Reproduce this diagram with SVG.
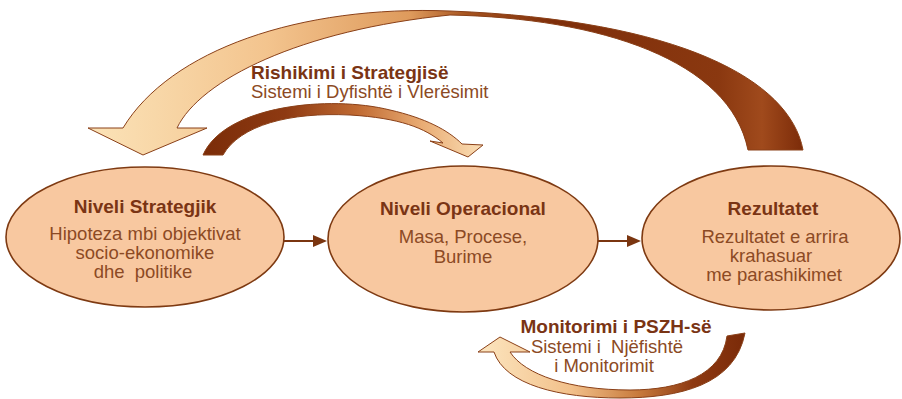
<svg xmlns="http://www.w3.org/2000/svg" width="902" height="399" viewBox="0 0 902 399">
  <defs>
    <style>
      .node { fill: #F8C8A0; stroke: #7E3A12; stroke-width: 1.6; }
      .title { font-family: "Liberation Sans", Arial, sans-serif; font-weight: bold; font-size: 19px; fill: #7A3414; text-anchor: middle; }
      .body { font-family: "Liberation Sans", Arial, sans-serif; font-size: 18.5px; fill: #8C4A24; text-anchor: middle; white-space: pre; }
      .cap { font-family: "Liberation Sans", Arial, sans-serif; font-weight: bold; font-size: 19px; fill: #7A3414; }
      .capsub { font-family: "Liberation Sans", Arial, sans-serif; font-size: 18.5px; fill: #8C4A24; white-space: pre; }
      .band { stroke: #8A4018; stroke-width: 1; stroke-linejoin: round; }
      .link { stroke: #7A3510; stroke-width: 2; fill: none; }
      .head { fill: #7A3510; }
    </style>
    <!-- big review loop: dark tail on the right, pale head on the left -->
    <linearGradient id="gTop" gradientUnits="userSpaceOnUse" x1="88" y1="0" x2="805" y2="0">
      <stop offset="0" stop-color="#FBE3B8"/>
      <stop offset="0.25" stop-color="#F3C48E"/>
      <stop offset="0.45" stop-color="#DE9A5C"/>
      <stop offset="0.53" stop-color="#A5521E"/>
      <stop offset="0.65" stop-color="#7E2E0A"/>
      <stop offset="0.88" stop-color="#8A3810"/>
      <stop offset="0.94" stop-color="#A04A1C"/>
      <stop offset="1" stop-color="#7A2A08"/>
    </linearGradient>
    <!-- inner loop: dark tail on the left, pale head on the right -->
    <linearGradient id="gMid" gradientUnits="userSpaceOnUse" x1="200" y1="0" x2="485" y2="0">
      <stop offset="0" stop-color="#7A2C08"/>
      <stop offset="0.3" stop-color="#8E3A12"/>
      <stop offset="0.55" stop-color="#C06A32"/>
      <stop offset="0.78" stop-color="#E9AC74"/>
      <stop offset="1" stop-color="#FBE0B8"/>
    </linearGradient>
    <!-- monitoring loop: dark tail on the right, pale head on the left -->
    <linearGradient id="gBot" gradientUnits="userSpaceOnUse" x1="478" y1="0" x2="746" y2="0">
      <stop offset="0" stop-color="#FCE6C0"/>
      <stop offset="0.35" stop-color="#F2C08A"/>
      <stop offset="0.6" stop-color="#C77A3C"/>
      <stop offset="0.8" stop-color="#8E3A12"/>
      <stop offset="1" stop-color="#7A2A08"/>
    </linearGradient>
  </defs>

  <rect width="902" height="399" fill="#FFFFFF"/>

  <g id="connectors">
    <g id="loop-review">
      <path class="band" fill="url(#gTop)" d="M803,150 C790,80 680,20 450,11 C300,5 170,50 123,128 L88,128 L143,155 L207,128 L177,128 C200,80 300,30 450,15 C600,18 730,60 748,150 Z"/>
    </g>
    <g id="loop-evaluation">
      <path class="band" fill="url(#gMid)" d="M203,155 C225,105 330,95 390,110 C425,118 448,130 462,144 L483,145 L468,157 L430,141 L443,143 C425,128 400,118 350,115 C290,112 240,125 223,155 Z"/>
    </g>
    <g id="loop-monitoring">
      <path class="band" fill="url(#gBot)" d="M494,352 C505,385 560,398 620,398 C680,398 735,385 745,333 L727,336 C722,375 680,390 630,390 C570,390 525,375 510,352 L530,352 L500,337 L478,352 Z"/>
    </g>
    <g id="link-strategic-operational">
      <line class="link" x1="283" y1="241" x2="315" y2="241"/>
      <polygon class="head" points="313,235 327,241 313,247"/>
    </g>
    <g id="link-operational-results">
      <line class="link" x1="597" y1="241" x2="629" y2="241"/>
      <polygon class="head" points="627,235 641,241 627,247"/>
    </g>
  </g>

  <g id="label-review">
    <text class="cap" x="251" y="79">Rishikimi i Strategjisë</text>
    <text class="capsub" x="251" y="98">Sistemi i Dyfishtë i Vlerësimit</text>
  </g>

  <g id="label-monitoring">
    <text class="cap" x="616" y="333" text-anchor="middle">Monitorimi i PSZH-së</text>
    <text class="capsub" x="607" y="353" text-anchor="middle">Sistemi i  Njëfishtë</text>
    <text class="capsub" x="604" y="372" text-anchor="middle">i Monitorimit</text>
  </g>

  <g id="node-strategic">
    <ellipse class="node" cx="145" cy="237" rx="139" ry="70"/>
    <text class="title" x="145" y="213">Niveli Strategjik</text>
    <text class="body" x="145" y="240">Hipoteza mbi objektivat</text>
    <text class="body" x="145" y="259">socio-ekonomike</text>
    <text class="body" x="143" y="278">dhe  politike</text>
  </g>

  <g id="node-operational">
    <ellipse class="node" cx="463" cy="239" rx="135" ry="73"/>
    <text class="title" x="463" y="215">Niveli Operacional</text>
    <text class="body" x="463" y="243">Masa, Procese,</text>
    <text class="body" x="463" y="263">Burime</text>
  </g>

  <g id="node-results">
    <ellipse class="node" cx="771" cy="238" rx="129" ry="72"/>
    <text class="title" x="773" y="215">Rezultatet</text>
    <text class="body" x="775" y="243">Rezultatet e arrira</text>
    <text class="body" x="771" y="262">krahasuar</text>
    <text class="body" x="774" y="281">me parashikimet</text>
  </g>
</svg>
